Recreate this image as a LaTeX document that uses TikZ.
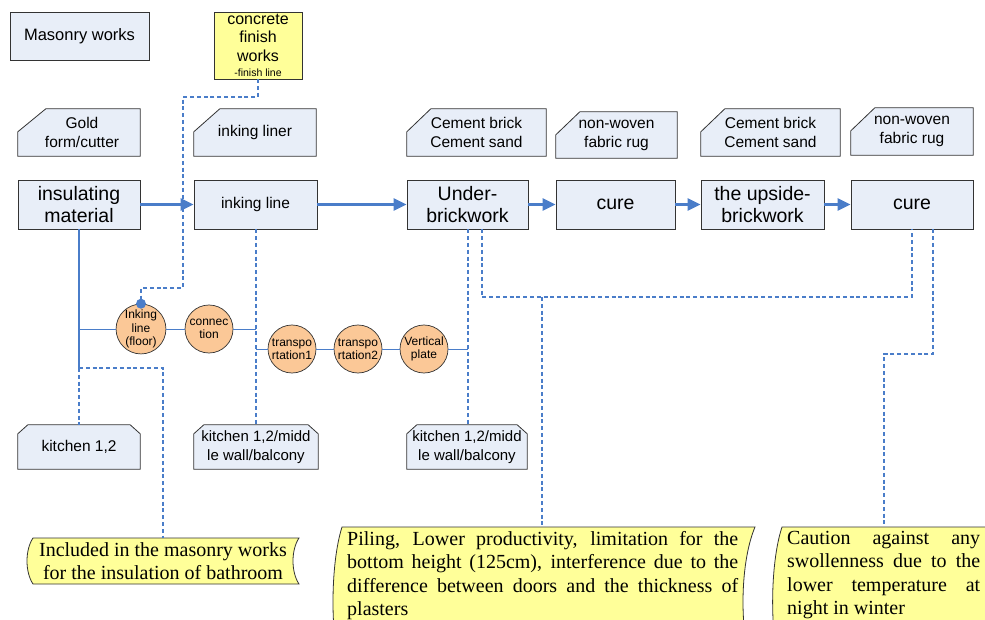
\documentclass[tikz,border=0pt]{standalone}
\usepackage{fontspec}
\setmainfont{Liberation Sans}
\newfontfamily\serifnote{Liberation Serif}
\usetikzlibrary{arrows.meta}
\pgfdeclarelayer{bg}
\pgfsetlayers{bg,main}
\definecolor{boxfill}{HTML}{E8EEF8}
\definecolor{lineblue}{HTML}{4A7DC9}
\definecolor{circfill}{HTML}{FBC897}
\definecolor{noteyellow}{HTML}{FFFF99}
\definecolor{edge}{HTML}{333333}
\newcommand\fs[2]{\fontsize{#1}{#2}\selectfont}
\begin{document}
\begin{tikzpicture}[x=1pt,y=-1pt,
  box/.style={draw=edge, fill=boxfill, line width=0.8pt, inner sep=0pt, align=center},
  plain/.style={inner sep=0pt, align=center},
  sz/.style 2 args={minimum width=#1pt, minimum height=#2pt},
  circ/.style={circle, draw=edge, fill=circfill, line width=0.7pt, minimum size=48pt, inner sep=0pt, align=center, font=\fs{12}{13.5}},
  flow/.style={draw=lineblue, line width=2.4pt, -{Triangle[length=13pt,width=12pt]}},
  thinline/.style={draw=lineblue, line width=1pt},
  thickline/.style={draw=lineblue, line width=2.2pt},
  dashline/.style={draw=lineblue, line width=2.3pt, dash pattern=on 4pt off 2.8pt},
  shapefill/.style={draw=edge, fill=boxfill, line width=0.8pt},
  notefill/.style={draw=edge, fill=noteyellow, line width=0.8pt},
  notetext/.style={inner xsep=0pt, inner ysep=4pt, font=\serifnote\fs{20}{23.5}},
]
\useasboundingbox (0,0) rectangle (985,620);
\clip (0,0) rectangle (985,620);

% top boxes
\node[box, sz={139}{48}, font=\fs{16.5}{19}] (masonry) at (79.5,36) {Masonry works};
\node[draw=edge, fill=noteyellow, line width=0.8pt, inner sep=0pt, align=center, sz={88}{67}, font=\fs{16}{18.5}] (concrete) at (258,45.5) {concrete\\finish\\works\\[-3pt]{\fs{10.5}{12}-finish line}};

% card (resource) nodes
\node[plain, sz={122}{47}, font=\fs{15.5}{19}] (gold) at (79,132.5) {\hspace*{6pt}Gold\\\hspace*{6pt}form/cutter};
\node[plain, sz={122}{47}, font=\fs{15.5}{19}] (liner) at (255,132.5) {inking liner};
\node[plain, sz={139}{47}, font=\fs{15.5}{19}] (cem1) at (476.5,132.5) {Cement brick\\Cement sand};
\node[plain, sz={121}{46}, font=\fs{15.5}{19}] (nw1) at (616.5,135) {non-woven\\fabric rug};
\node[plain, sz={139}{47}, font=\fs{15.5}{19}] (cem2) at (770.5,132.5) {Cement brick\\Cement sand};
\node[plain, sz={122}{47}, font=\fs{15.5}{19}] (nw2) at (912,131.5) {non-woven\\fabric rug};

% process boxes
\node[box, sz={122}{49}, font=\fs{19.5}{22}] (insul) at (79,204.5) {insulating\\material};
\node[box, sz={123}{49}, font=\fs{15.5}{19}] (inkline) at (255.5,204.5) {inking line};
\node[box, sz={121}{49}, font=\fs{19.5}{22}] (under) at (467.5,204.5) {Under-\\brickwork};
\node[box, sz={119}{49}, font=\fs{19.5}{22}] (cure1) at (615.5,204.5) {cure};
\node[box, sz={123}{49}, font=\fs{19.5}{22}] (upside) at (762.5,204.5) {the upside-\\brickwork};
\node[box, sz={122}{49}, font=\fs{19.5}{22}] (cure2) at (912,204.5) {cure};

% kitchen nodes
\node[plain, sz={122}{44}, font=\fs{15.5}{19}] (k1) at (79,447) {kitchen 1,2};
\node[plain, sz={124}{44}, font=\fs{15}{19}] (k2) at (256,447) {kitchen 1,2/midd\\le wall/balcony};
\node[plain, sz={120}{44}, font=\fs{15}{19}] (k3) at (467,447) {kitchen 1,2/midd\\le wall/balcony};

% circles
\node[circ] (c1) at (141,329) {Inking\\line\\(floor)};
\node[circ] (c2) at (209,329) {connec\\tion};
\node[circ] (c3) at (292,349) {transpo\\rtation1};
\node[circ] (c4) at (358,349) {transpo\\rtation2};
\node[circ] (c5) at (424,349) {Vertical\\plate};

% notes
\node[notetext, anchor=north, align=center] (note1) at (163,538) {Included in the masonry works\\for the insulation of bathroom};
\node[notetext, anchor=north west, text width=391pt, align=justify] (note2) at (347,527) {Piling, Lower productivity, limitation for the\linebreak bottom height (125cm), interference due to the\linebreak difference between doors and the thickness of\linebreak plasters};
\node[notetext, anchor=north west, text width=193pt, align=justify] (note3) at (787,527) {Caution against any\linebreak swollenness due to the\linebreak lower temperature at\linebreak night in winter};

% junction coordinates
\coordinate (jA) at (79,329);
\coordinate (jB) at (79,368);
\coordinate (jC) at (163,368);
\coordinate (jD) at (256,329);
\coordinate (jE) at (256,349);
\coordinate (jF) at (468,349);
\coordinate (jG) at (482,297);
\coordinate (jH) at (912,297);
\coordinate (jI) at (542,297);
\coordinate (jJ) at (933,354);
\coordinate (jK) at (884,354);
\coordinate (jL) at (258,97);
\coordinate (jM) at (183,97);
\coordinate (jN) at (183,288);
\coordinate (jO) at (141,288);

% dashed connectors
\draw[dashline] (concrete.south) -- (jL) -- (jM) -- (jN) -- (jO) -- (c1.north);
\draw[dashline] (jB) -- (k1.north);
\draw[dashline] (jB) -- (jC) -- (jC |- note1.north);
\draw[dashline] (jD |- inkline.south) -- (jD |- k2.north);
\draw[dashline] (jF |- under.south) -- (jF |- k3.north);
\draw[dashline] (jG |- under.south) -- (jG) -- (jH) -- (cure2.south);
\draw[dashline] (jI) -- (jI |- note2.north);
\draw[dashline] (jJ |- cure2.south) -- (jJ) -- (jK) -- (jK |- note3.north);

% solid connectors
\draw[thickline] (insul.south) -- (jB);
\draw[thinline] (jA) -- (c1) -- (c2) -- (jD);
\draw[thinline] (jE) -- (c3) -- (c4) -- (c5) -- (jF);
\fill[lineblue] (c1.north) circle (5pt);

% flow arrows
\draw[flow] (insul) -- (inkline);
\draw[flow] (inkline) -- (under);
\draw[flow] (under) -- (cure1);
\draw[flow] (cure1) -- (upside);
\draw[flow] (upside) -- (cure2);

% background shapes
\begin{pgfonlayer}{bg}
\begin{scope}
\clip (0,0) rectangle (985,620);
\foreach \n/\dx in {gold/28,liner/26,cem1/24,nw1/24,cem2/24,nw2/24}{
  \path[shapefill] ([xshift=\dx pt]\n.north west) -- (\n.north east) -- (\n.south east) -- (\n.south west) -- ([yshift=-23pt]\n.north west) -- cycle;
}
\foreach \n in {k1,k2,k3}{
  \path[shapefill] ([xshift=10pt]\n.north west) -- ([xshift=-10pt]\n.north east) -- ([yshift=-9pt]\n.north east) -- (\n.south east) -- (\n.south west) -- ([yshift=-9pt]\n.north west) -- cycle;
}
\path[notefill] (33,538) -- (299,538) .. controls (291,550) and (291,572) .. (299,584) -- (33,584) .. controls (25,572) and (25,550) .. (33,538) -- cycle;
\path[notefill] (342,527) -- (755,527) .. controls (739,565) and (739,639) .. (755,677) -- (342,677) .. controls (330,639) and (330,565) .. (342,527) -- cycle;
\path[notefill] (782,527) -- (1000,527) -- (1000,677) -- (782,677) .. controls (769.5,639) and (769.5,565) .. (782,527) -- cycle;
\end{scope}
\end{pgfonlayer}
\end{tikzpicture}
\end{document}
